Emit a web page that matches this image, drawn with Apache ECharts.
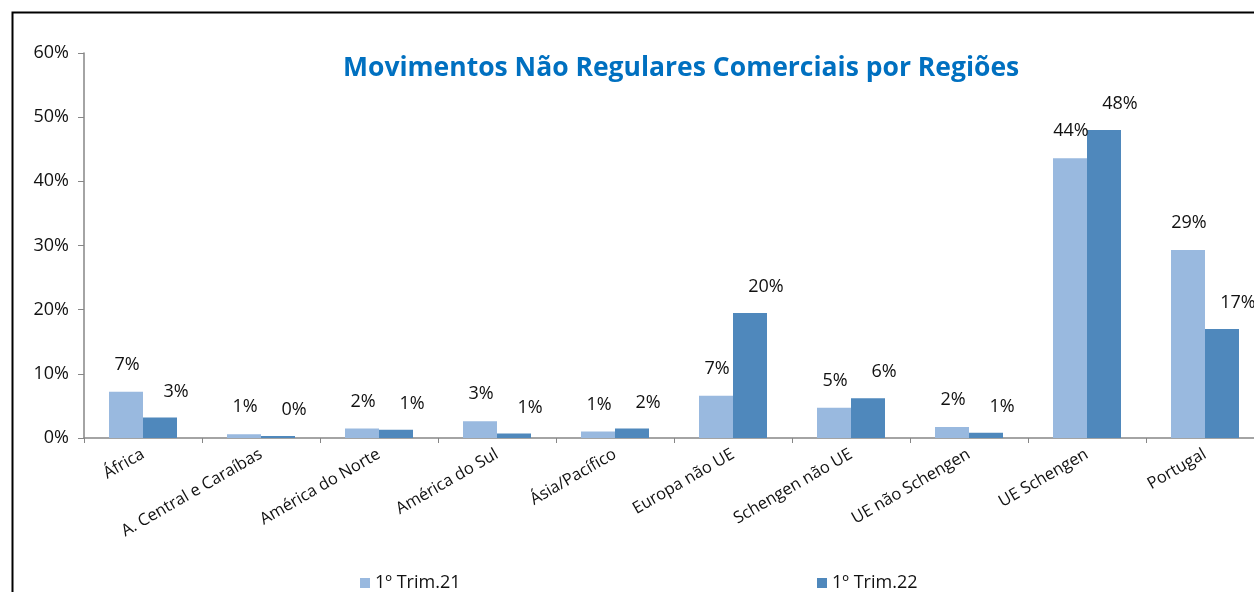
<!DOCTYPE html>
<html><head><meta charset="utf-8">
<script src="https://cdn.jsdelivr.net/npm/echarts@6/dist/echarts.min.js"></script>
<style>html,body{margin:0;padding:0;background:#fff;overflow:hidden}#c{width:1254px;height:592px}</style>
</head><body><div id="c"></div>
<script>
const categories = ['África','A. Central e Caraíbas','América do Norte','América do Sul','Ásia/Pacífico','Europa não UE','Schengen não UE','UE não Schengen','UE Schengen','Portugal'];
const trim21 = [7.2, 0.6, 1.5, 2.6, 1.0, 6.6, 4.7, 1.7, 43.6, 29.3];
const trim22 = [3.2, 0.3, 1.3, 0.7, 1.5, 19.5, 6.2, 0.8, 48.0, 17.0];
const seriesNames = ['1º Trim.21', '1º Trim.22'];
const yTicks = [0, 10, 20, 30, 40, 50, 60];

const FONT = 'Open Sans';
const chart = echarts.init(document.getElementById('c'));
chart.setOption({
  animation: false,
  textStyle: { fontFamily: FONT },
  title: {
    text: 'Movimentos Não Regulares Comerciais por Regiões',
    left: 338, top: 50,
    textStyle: { color: '#0070C0', fontSize: 26.5, fontWeight: 'bold', fontFamily: FONT }
  },
  graphic: [{
    type: 'rect', left: 10, top: 10, z: 100,
    shape: { width: 1400, height: 800 },
    style: { fill: 'none', stroke: '#000', lineWidth: 2 }
  }],
  legend: [
    { data: [seriesNames[0]], left: 355, top: 569, itemWidth: 10, itemHeight: 10, itemGap: 5,
      icon: 'rect', textStyle: { fontSize: 18, color: '#111', fontFamily: FONT } },
    { data: [seriesNames[1]], left: 812, top: 569, itemWidth: 10, itemHeight: 10, itemGap: 5,
      icon: 'rect', textStyle: { fontSize: 18, color: '#111', fontFamily: FONT } }
  ],
  grid: { left: 84, width: 1180, top: 53, bottom: 154, containLabel: false, outerBoundsMode: 'none' },
  xAxis: {
    type: 'category', data: categories,
    axisLine: { lineStyle: { color: '#868686', width: 1.5 } },
    axisTick: { show: true, alignWithLabel: false, length: 5, lineStyle: { color: '#868686' } },
    axisLabel: { rotate: 30, margin: 15, fontSize: 16.5, color: '#111', fontFamily: FONT, interval: 0 }
  },
  yAxis: {
    type: 'value', min: yTicks[0], max: yTicks[yTicks.length - 1], interval: 10,
    splitLine: { show: false },
    axisLine: { show: true, lineStyle: { color: '#868686', width: 1.5 } },
    axisTick: { show: true, length: 6, lineStyle: { color: '#868686' } },
    axisLabel: { formatter: '{value}%', fontSize: 18, color: '#111', margin: 15, fontFamily: FONT }
  },
  series: [
    { name: seriesNames[0], type: 'bar', data: trim21, barWidth: 34, barGap: '0%',
      itemStyle: { color: '#99B9DF' },
      label: { show: true, position: 'top', distance: 18, offset: [1, 0], fontSize: 18, color: '#111', fontFamily: FONT,
        formatter: p => Math.round(p.value) + '%' } },
    { name: seriesNames[1], type: 'bar', data: trim22, barWidth: 34, barGap: '0%',
      itemStyle: { color: '#4F88BC' },
      label: { show: true, position: 'top', distance: 17, offset: [16, 0], fontSize: 18, color: '#111', fontFamily: FONT,
        formatter: p => Math.round(p.value) + '%' } }
  ]
});
</script></body></html>
